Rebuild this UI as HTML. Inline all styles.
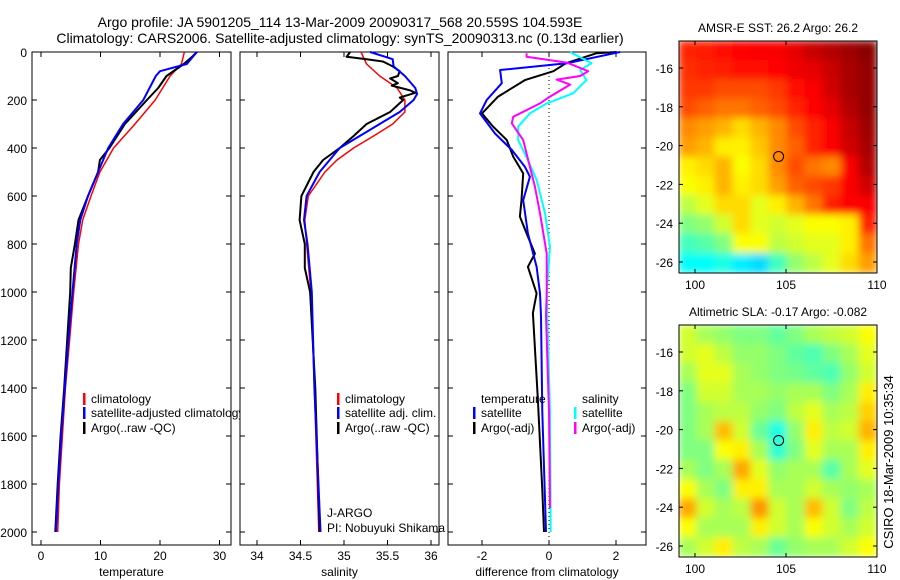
<!DOCTYPE html>
<html><head><meta charset="utf-8"><style>
body{margin:0;background:#fff;}
svg{display:block;font-family:"Liberation Sans",sans-serif;}
text{fill:#000;}
</style></head><body>
<svg id="fig" width="900" height="580" viewBox="0 0 900 580">
<g id="titles">
<text x="340" y="27" font-size="14" text-anchor="middle">Argo profile: JA 5901205_114 13-Mar-2009 20090317_568 20.559S 104.593E</text>
<text x="340" y="43" font-size="14" text-anchor="middle">Climatology: CARS2006. Satellite-adjusted climatology: synTS_20090313.nc (0.13d earlier)</text>
</g>
<g id="p1"></g>
<g id="p2"></g>
<g id="p3"></g>
<g id="m1"></g>
<g id="m2"></g>
<text transform="translate(893,462) rotate(-90)" font-size="13" text-anchor="middle">CSIRO 18-Mar-2009 10:35:34</text>
</svg>
<script>
// ---------- data ----------
const depthTicks=[0,200,400,600,800,1000,1200,1400,1600,1800,2000];
const tempTicks=[0,10,20,30];
const salTicks=[34,34.5,35,35.5,36];
const salTickLabels=["34","34.5","35","35.5","36"];
const diffTicks=[-2,0,2];
const lonTicks=[100,105,110];
const latTicks=[-16,-18,-20,-22,-24,-26];

const tClimDepth=[0,50,100,200,300,400,500,600,700,800,1000,1200,1400,1600,1800,2000];
const tClim=[24.1,23.6,21.7,19.2,15.8,12.2,9.9,8.4,7.0,6.3,5.5,4.8,4.1,3.6,3.1,2.8];
const tSatDepth=[0,50,80,100,200,300,400,500,600,700,800,1000,1200,1400,1600,1800,2000];
const tSat=[26.2,24.5,20.0,19.3,17.2,13.8,11.3,9.6,7.9,6.6,6.0,5.3,4.6,4.0,3.4,2.9,2.5];
const tArgoDepth=[0,20,50,100,150,200,300,400,450,500,600,700,800,900,1000,1200,1400,1600,1800,2000];
const tArgo=[26.2,25.4,24.0,21.1,19.7,17.8,14.1,11.5,9.9,9.6,7.9,6.3,5.7,5.0,4.9,4.4,3.9,3.3,2.8,2.4];

const sClimDepth=[0,50,100,150,200,250,300,350,400,450,500,600,700,800,1000,1400,2000];
const sClim=[35.195,35.26,35.41,35.61,35.70,35.70,35.56,35.34,35.11,34.92,34.78,34.59,34.55,34.57,34.62,34.66,34.71];
const sSatDepth=[0,30,60,100,150,175,200,250,300,350,400,500,600,700,800,1000,1400,2000];
const sSat=[35.30,35.56,35.57,35.70,35.82,35.84,35.80,35.64,35.41,35.18,34.95,34.72,34.57,34.54,34.58,34.63,34.66,34.73];
const sArgoDepth=[0,20,30,40,60,80,100,110,130,140,160,170,190,200,250,300,350,400,450,500,600,700,800,900,1000,1400,2000];
const sArgo=[35.07,35.03,35.26,35.45,35.56,35.64,35.62,35.53,35.62,35.55,35.76,35.82,35.64,35.68,35.53,35.26,35.11,34.95,34.76,34.65,34.51,34.49,34.55,34.55,34.61,34.67,34.72];

const dTSatDepth=[0,47,75,130,200,256,340,408,478,520,617,756,895,1006,1100,1500,2000];
const dTSat=[2.12,0.53,-1.46,-1.41,-1.86,-2.06,-1.61,-1.11,-0.72,-0.57,-0.77,-0.63,-0.37,-0.27,-0.24,-0.20,-0.09];
const dTArgoDepth=[0,5,47,80,117,186,256,311,367,436,506,617,686,756,840,895,1006,1088,1450,1825,2000];
const dTArgo=[2.02,1.42,0.50,0.13,-0.72,-1.52,-2.0,-1.67,-1.26,-1.07,-0.77,-0.82,-0.87,-0.67,-0.42,-0.63,-0.37,-0.48,-0.33,-0.20,-0.15];
const dSSatDepth=[0,47,75,117,172,214,256,311,367,450,533,672,811,1006,1500,2000];
const dSSat=[0.63,1.27,0.93,1.12,0.72,-0.07,-0.57,-0.92,-0.92,-0.63,-0.37,-0.12,0.03,-0.07,0.03,0.05];
const dSArgoDepth=[5,20,44,80,100,115,136,186,214,270,297,367,478,561,672,840,1006,1100,1500,1900];
const dSArgo=[-0.67,-0.67,0.53,1.17,0.93,0.23,0.63,0.03,-0.27,-1.07,-1.11,-0.77,-0.57,-0.42,-0.27,-0.07,-0.07,-0.09,0.0,0.03];

const sstGrid=[
[0.84,0.85,0.86,0.87,0.88,0.88,0.9,0.93,0.95,0.97,0.99],
[0.83,0.84,0.85,0.86,0.86,0.87,0.89,0.9,0.93,0.96,0.98],
[0.82,0.82,0.8,0.8,0.8,0.82,0.86,0.88,0.92,0.96,0.98],
[0.8,0.78,0.76,0.76,0.78,0.8,0.84,0.87,0.9,0.95,0.98],
[0.74,0.72,0.7,0.66,0.7,0.74,0.8,0.84,0.88,0.93,0.97],
[0.72,0.7,0.64,0.64,0.68,0.74,0.78,0.84,0.88,0.92,0.96],
[0.64,0.66,0.7,0.62,0.66,0.74,0.8,0.76,0.74,0.88,0.95],
[0.62,0.64,0.7,0.64,0.66,0.72,0.78,0.8,0.82,0.88,0.92],
[0.56,0.6,0.66,0.66,0.6,0.64,0.7,0.76,0.84,0.87,0.88],
[0.5,0.52,0.58,0.66,0.6,0.58,0.6,0.62,0.62,0.64,0.84],
[0.44,0.46,0.5,0.62,0.62,0.56,0.58,0.6,0.6,0.64,0.76],
[0.38,0.38,0.4,0.36,0.34,0.44,0.52,0.56,0.6,0.66,0.72]];
const slaGrid=[
[0.58,0.54,0.52,0.5,0.5,0.47,0.5,0.54,0.56,0.58,0.62],
[0.58,0.6,0.56,0.52,0.52,0.5,0.47,0.45,0.5,0.54,0.6],
[0.54,0.6,0.6,0.54,0.52,0.5,0.49,0.47,0.45,0.52,0.58],
[0.5,0.58,0.58,0.54,0.54,0.52,0.54,0.54,0.5,0.54,0.64],
[0.5,0.54,0.56,0.56,0.52,0.5,0.56,0.6,0.54,0.56,0.67],
[0.5,0.54,0.69,0.58,0.48,0.4,0.52,0.64,0.56,0.58,0.7],
[0.5,0.5,0.62,0.64,0.54,0.42,0.5,0.6,0.54,0.54,0.64],
[0.54,0.5,0.54,0.71,0.6,0.52,0.54,0.54,0.46,0.54,0.6],
[0.62,0.54,0.5,0.64,0.64,0.54,0.54,0.58,0.54,0.52,0.54],
[0.71,0.58,0.54,0.56,0.73,0.58,0.54,0.69,0.58,0.5,0.56],
[0.62,0.54,0.54,0.54,0.64,0.58,0.54,0.62,0.58,0.54,0.58],
[0.54,0.58,0.64,0.56,0.54,0.48,0.52,0.54,0.54,0.58,0.62]];
const argoLon=104.593, argoLat=-20.559;

// ---------- helpers ----------
const NS="http://www.w3.org/2000/svg";
function mk(tag,attrs,parent){const e=document.createElementNS(NS,tag);for(const k in attrs)e.setAttribute(k,attrs[k]);parent.appendChild(e);return e;}
const yTop=52,yBot=545;
const yD=d=>yTop+d*0.24;
function panel(g,x0,x1,xs,xticks,xlabels,xtitle,showY){
  const r=mk('rect',{x:x0,y:yTop,width:x1-x0,height:yBot-yTop,fill:'#fff',stroke:'#000','stroke-width':1},g);
  
  depthTicks.forEach(d=>{
    mk('line',{x1:x0,x2:x0+5,y1:yD(d),y2:yD(d),stroke:'#000'},g);
    mk('line',{x1:x1-5,x2:x1,y1:yD(d),y2:yD(d),stroke:'#000'},g);
    if(showY){const t=mk('text',{x:x0-5,y:yD(d)+5,'font-size':12,'text-anchor':'end'},g);t.textContent=d;
      }
  });
  xticks.forEach((v,i)=>{
    mk('line',{x1:xs(v),x2:xs(v),y1:yBot,y2:yBot-5,stroke:'#000'},g);
    mk('line',{x1:xs(v),x2:xs(v),y1:yTop,y2:yTop+5,stroke:'#000'},g);
    const t=mk('text',{x:xs(v),y:yBot+15,'font-size':12,'text-anchor':'middle'},g);t.textContent=xlabels[i];
    
  });
  const tt=mk('text',{x:(x0+x1)/2,y:576,'font-size':12,'text-anchor':'middle'},g);tt.textContent=xtitle;
  
}
function line(g,xs,vals,depths,color,w,name){
  const pts=vals.map((v,i)=>xs(v).toFixed(1)+','+yD(depths[i]).toFixed(1)).join(' ');
  const p=mk('polyline',{points:pts,fill:'none',stroke:color,'stroke-width':w,'stroke-linejoin':'round'},g);
  
}
function legend(g,x,y,color,label,name){
  if(color){mk('rect',{x:x,y:y-10,width:2.5,height:12,fill:color},g);}
  const t=mk('text',{x:x+8,y:y,'font-size':12},g);t.textContent=label;
  
}
// ---------- panel 1 ----------
const g1=document.getElementById('p1');
const xT=v=>41+v*5.95;
panel(g1,32,231,xT,tempTicks,tempTicks.map(String),'temperature',true);
line(g1,xT,tClim,tClimDepth,'#f00',1.5,'temp-climatology-line');
line(g1,xT,tArgo,tArgoDepth,'#000',2,'temp-argo-line');
line(g1,xT,tSat,tSatDepth,'#00f',2,'temp-satellite-line');
legend(g1,83,403,'#f00','climatology','legend-climatology');
legend(g1,83,417,'#00f','satellite-adjusted climatology','legend-satellite-adjusted');
legend(g1,83,432,'#000','Argo(..raw -QC)','legend-argo');
// ---------- panel 2 ----------
const g2=document.getElementById('p2');
const xS=v=>257+(v-34)*87;
panel(g2,240,439,xS,salTicks,salTickLabels,'salinity',false);
line(g2,xS,sClim,sClimDepth,'#f00',1.5,'sal-climatology-line');
line(g2,xS,sArgo,sArgoDepth,'#000',2,'sal-argo-line');
line(g2,xS,sSat,sSatDepth,'#00f',2,'sal-satellite-line');
legend(g2,337,403,'#f00','climatology','legend-climatology');
legend(g2,337,417,'#00f','satellite adj. clim.','legend-satellite-adj');
legend(g2,337,432,'#000','Argo(..raw -QC)','legend-argo');
legend(g2,319,517,null,'J-ARGO','legend-program');
legend(g2,319,532,null,'PI: Nobuyuki Shikama','legend-pi');
// ---------- panel 3 ----------
const g3=document.getElementById('p3');
const xD=v=>549+v*33.5;
panel(g3,448,646,xD,diffTicks,diffTicks.map(String),'difference from climatology',false);
mk('line',{x1:xD(0),x2:xD(0),y1:yTop,y2:yBot,stroke:'#000','stroke-dasharray':'1,3'},g3);
line(g3,xD,dTArgo,dTArgoDepth,'#000',2,'diff-temp-argo-line');
line(g3,xD,dTSat,dTSatDepth,'#00f',2,'diff-temp-satellite-line');
line(g3,xD,dSSat,dSSatDepth,'#0ff',2,'diff-sal-satellite-line');
line(g3,xD,dSArgo,dSArgoDepth,'#f0f',2,'diff-sal-argo-line');
legend(g3,473,403,null,'temperature','legend-temperature-header');
legend(g3,473,417,'#00f','satellite','legend-temp-satellite');
legend(g3,473,432,'#000','Argo(-adj)','legend-temp-argo');
legend(g3,574,403,null,'salinity','legend-salinity-header');
legend(g3,574,417,'#0ff','satellite','legend-sal-satellite');
legend(g3,574,432,'#f0f','Argo(-adj)','legend-sal-argo');
// ---------- maps ----------
function jet(v){
  const c=x=>Math.max(0,Math.min(1,x));
  const r=c(1.5-Math.abs(4*v-3)),g=c(1.5-Math.abs(4*v-2)),b=c(1.5-Math.abs(4*v-1));
  return `rgb(${Math.round(r*255)},${Math.round(g*255)},${Math.round(b*255)})`;
}
function drawMap(id,grid,top,title){
  const g=document.getElementById(id);
  const x0=679,x1=877,y0=top,y1=top+232;
  const xL=v=>695+(v-100)*18.2, yL=v=>y0+27+(-16-v)*19.4;
  const rows=grid.length,cols=grid[0].length;
  const cw=(x1-x0)/cols,ch=(y1-y0)/rows;
  const clipId=id+'clip';
  const defs=mk('defs',{},g);
  const cp=mk('clipPath',{id:clipId},defs);mk('rect',{x:x0,y:y0,width:x1-x0,height:y1-y0},cp);
  const f=mk('filter',{id:id+'blur',x:'-10%',y:'-10%',width:'120%',height:'120%'},defs);
  mk('feGaussianBlur',{stdDeviation:4,edgeMode:'duplicate'},f);
  const cg=mk('g',{'clip-path':`url(#${clipId})`},g);
  const ig=mk('g',{filter:`url(#${id}blur)`},cg);
  grid.forEach((row,i)=>row.forEach((v,j)=>{
    const r=mk('rect',{x:x0+j*cw-0.5,y:y0+i*ch-0.5,width:cw+1,height:ch+1,fill:jet(v)},ig);
    
  }));
  const fr=mk('rect',{x:x0,y:y0,width:x1-x0,height:y1-y0,fill:'none',stroke:'#000'},g);
  
  lonTicks.forEach(v=>{
    mk('line',{x1:xL(v),x2:xL(v),y1:y1,y2:y1-4,stroke:'#000'},g);
    mk('line',{x1:xL(v),x2:xL(v),y1:y0,y2:y0+4,stroke:'#000'},g);
    const t=mk('text',{x:xL(v),y:y1+16,'font-size':12,'text-anchor':'middle'},g);t.textContent=v;
    
  });
  latTicks.forEach(v=>{
    mk('line',{x1:x0,x2:x0+4,y1:yL(v),y2:yL(v),stroke:'#000'},g);
    mk('line',{x1:x1-4,x2:x1,y1:yL(v),y2:yL(v),stroke:'#000'},g);
    const t=mk('text',{x:x0-6,y:yL(v)+5,'font-size':12,'text-anchor':'end'},g);t.textContent=v;
    
  });
  const c=mk('circle',{cx:xL(argoLon),cy:yL(argoLat),r:5,fill:'none',stroke:'#000','stroke-width':1},g);
  
  const t=mk('text',{x:778,y:y0-9,'font-size':12,'text-anchor':'middle'},g);t.textContent=title;
  
}
drawMap('m1',sstGrid,41,'AMSR-E SST: 26.2 Argo: 26.2');
drawMap('m2',slaGrid,325,'Altimetric SLA: -0.17 Argo: -0.082');
</script>
</body></html>
